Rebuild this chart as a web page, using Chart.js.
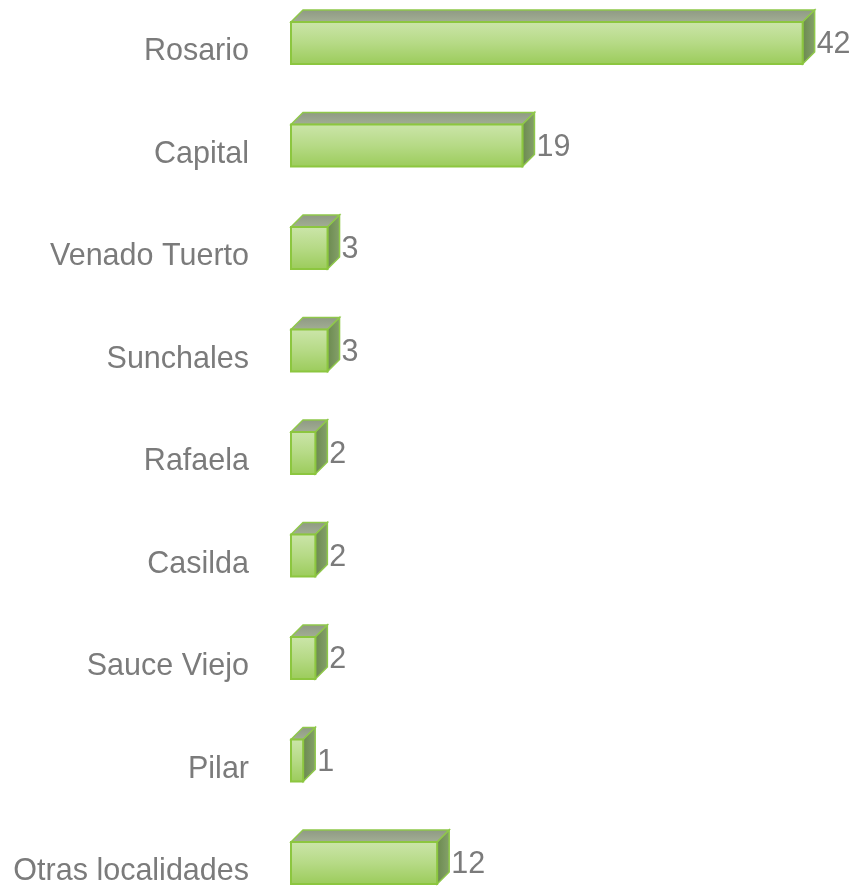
<!DOCTYPE html>
<html>
<head>
<meta charset="utf-8">
<script src="https://cdn.jsdelivr.net/npm/chart.js@4"></script>
<style>
  html, body { margin: 0; padding: 0; background: #fff; }
  #wrap { width: 858px; height: 888px; }
</style>
</head>
<body>
<div id="wrap"><canvas id="barchart"></canvas></div>
<script>
var localidades = ['Rosario', 'Capital', 'Venado Tuerto', 'Sunchales', 'Rafaela', 'Casilda', 'Sauce Viejo', 'Pilar', 'Otras localidades'];
var cantidades = [42, 19, 3, 3, 2, 2, 2, 1, 12];

var textColor = '#7b7b7b';
var fontFamily = '"Liberation Sans", Arial, sans-serif';
var fontSize = 30.5;
var depth = 12;

// dibuja cada barra en 3D a partir de la posicion calculada por Chart.js
var bar3d = {
    id: 'bar3d',
    afterDatasetsDraw: function (chart) {
        var ctx = chart.ctx;
        var meta = chart.getDatasetMeta(0);
        ctx.save();
        meta.data.forEach(function (bar, i) {
            var x0 = bar.base, x1 = bar.x;
            var h = bar.height;
            var y0 = bar.y - h / 2, y1 = bar.y + h / 2;

            // cara superior
            var gTop = ctx.createLinearGradient(0, y0 - depth, 0, y0);
            gTop.addColorStop(0, '#8f9a84');
            gTop.addColorStop(1, '#a2ae94');
            ctx.beginPath();
            ctx.moveTo(x0, y0);
            ctx.lineTo(x0 + depth, y0 - depth);
            ctx.lineTo(x1 + depth, y0 - depth);
            ctx.lineTo(x1, y0);
            ctx.closePath();
            ctx.fillStyle = gTop;
            ctx.fill();
            ctx.strokeStyle = '#8fc84a';
            ctx.lineWidth = 1.5;
            ctx.stroke();

            // cara lateral
            var gSide = ctx.createLinearGradient(x1, 0, x1 + depth, 0);
            gSide.addColorStop(0, '#6c8a50');
            gSide.addColorStop(1, '#84a06a');
            ctx.beginPath();
            ctx.moveTo(x1, y0);
            ctx.lineTo(x1 + depth, y0 - depth);
            ctx.lineTo(x1 + depth, y1 - depth);
            ctx.lineTo(x1, y1);
            ctx.closePath();
            ctx.fillStyle = gSide;
            ctx.fill();
            ctx.stroke();

            // cara frontal
            var gFront = ctx.createLinearGradient(0, y0, 0, y1);
            gFront.addColorStop(0, '#cbe5a9');
            gFront.addColorStop(0.5, '#b6da86');
            gFront.addColorStop(1, '#9ccc5c');
            ctx.fillStyle = gFront;
            ctx.fillRect(x0, y0, x1 - x0, h);
            ctx.strokeStyle = '#8cc63f';
            ctx.lineWidth = 2;
            ctx.strokeRect(x0, y0, x1 - x0, h);

            // etiqueta de valor
            ctx.fillStyle = textColor;
            ctx.font = fontSize + 'px ' + fontFamily;
            ctx.textAlign = 'left';
            ctx.textBaseline = 'middle';
            ctx.fillText(String(cantidades[i]), x1 + depth + 2, bar.y + 2);
        });
        ctx.restore();
    }
};

function initBarChart() {
    var canvas = document.getElementById('barchart');
    var barCtx = canvas.getContext('2d');

    new Chart(barCtx, {
        type: 'bar',
        data: {
            labels: localidades,
            datasets: [{
                data: cantidades,
                backgroundColor: 'rgba(0,0,0,0)',
                borderWidth: 0,
                barThickness: 42
            }]
        },
        options: {
            indexAxis: 'y',
            responsive: true,
            maintainAspectRatio: false,
            animation: false,
            clip: false,
            layout: { padding: { top: 43, bottom: 25, left: 0, right: 31 } },
            plugins: {
                legend: { display: false },
                tooltip: { enabled: false }
            },
            scales: {
                x: {
                    min: 0,
                    max: 44,
                    display: false
                },
                y: {
                    offset: false,
                    grid: { display: false, drawTicks: false },
                    border: { display: false },
                    ticks: {
                        color: textColor,
                        padding: 42,
                        labelOffset: 9,
                        font: { family: fontFamily, size: fontSize }
                    },
                    afterFit: function (scale) {
                        scale.width = 291;
                        scale.paddingTop = 0;
                        scale.paddingBottom = 0;
                    }
                }
            }
        },
        plugins: [bar3d]
    });
}

document.addEventListener('DOMContentLoaded', initBarChart);
</script>
</body>
</html>
